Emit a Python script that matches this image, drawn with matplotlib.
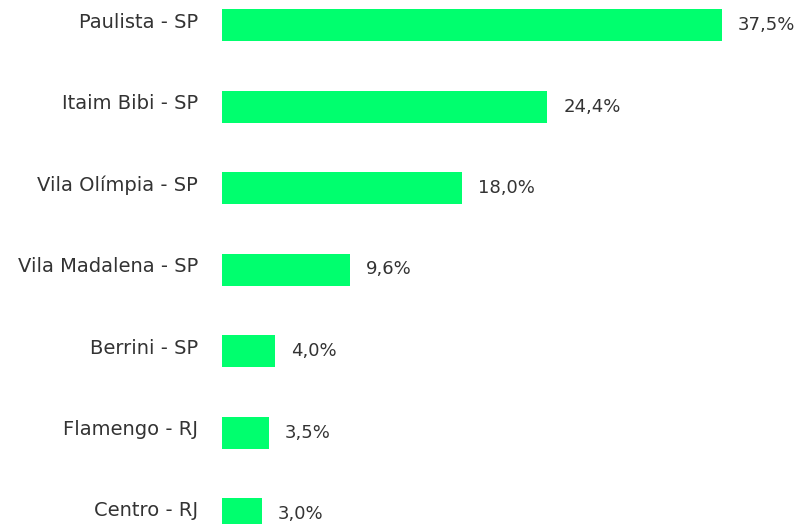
import matplotlib
matplotlib.use("Agg")
import matplotlib.pyplot as plt

categories = ["Paulista - SP", "Itaim Bibi - SP", "Vila Olímpia - SP", "Vila Madalena - SP",
              "Berrini - SP", "Flamengo - RJ", "Centro - RJ"]
values = [37.5, 24.4, 18.0, 9.6, 4.0, 3.5, 3.0]
value_labels = ["37,5%", "24,4%", "18,0%", "9,6%", "4,0%", "3,5%", "3,0%"]

plt.rcParams['font.family'] = ['DejaVu Sans']

W, H = 798, 524
fig = plt.figure(figsize=(W/100, H/100), dpi=100)
x0 = 222
ppu = 500/37.5
xmax = (W - x0)/ppu
ax = fig.add_axes([x0/W, 0, 1 - x0/W, 1])
spacing = 81.5
top = -25/spacing
bottom = 6 + (H - 514)/spacing
ax.set_ylim(bottom, top)
ax.set_xlim(0, xmax)

ypos = list(range(len(categories)))
ax.barh(ypos, values, height=32/spacing, color="#00FF6E")
for y, v, lab in zip(ypos, values, value_labels):
    ax.text(v + 16/ppu, y, lab, va="center", ha="left", fontsize=13, color="#333333")
    ax.text(-24/ppu, y - 3/spacing, categories[y], va="center", ha="right", fontsize=14,
            color="#333333", clip_on=False)

ax.axis("off")
fig.savefig("out.png", dpi=100)
